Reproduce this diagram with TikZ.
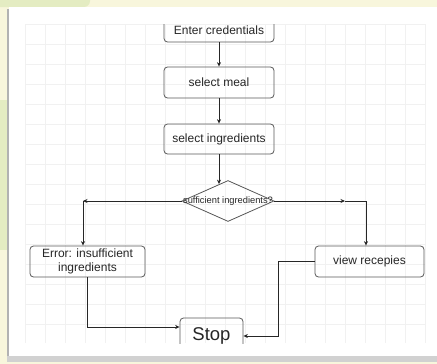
\documentclass[tikz,border=0pt]{standalone}
\usepackage{fontspec}
\setmainfont{Liberation Sans}
\usetikzlibrary{arrows.meta,shapes.geometric}
\definecolor{bgyellow}{HTML}{F8F6DC}
\definecolor{bggreen}{HTML}{E4ECC2}
\definecolor{gridc}{HTML}{F1F1F1}
\definecolor{txt}{HTML}{262626}
\begin{document}
\begin{tikzpicture}[x=1pt,y=-1pt,
  box/.style={draw=black!65, rounded corners=3.5pt, line width=0.8pt, minimum width=110pt, minimum height=31pt,
    font=\fontsize{12}{14}\selectfont, text=txt, align=center, inner sep=0pt},
  arr/.style={-{Stealth[length=4.5pt,width=4pt]}, line width=0.7pt, draw=black!85},
  ln/.style={line width=0.7pt, draw=black!85},
  gl/.style={draw=gridc, line width=0.5pt}]
\useasboundingbox (0,0) rectangle (437,364);
% background
\fill[bgyellow] (0,0) rectangle (437,364);
\fill[bggreen, rounded corners=6pt] (-10,-10) rectangle (90,7);
\fill[bggreen] (0,100) rectangle (8,250);
% panel with shadow
\fill[black!30] (7,9) rectangle (437,362);
\fill[black!18] (7,356) rectangle (437,362);
\fill[white] (9,7) rectangle (437,356);
% grid
\foreach \gx in {25,45,...,425} {\draw[gl] (\gx,24) -- (\gx,343);}
\foreach \gy in {24,44,...,343} {\draw[gl] (25,\gy) -- (425,\gy);}
\begin{scope}
\clip (0,24) rectangle (437,343);
\node[box, minimum height=24pt] (ec) at (219,30) {Enter credentials};
\node[box] (sm) at (219,82.5) {select meal};
\node[box, minimum height=30pt] (si) at (219,139) {select ingredients};
\node[draw=black!65, line width=0.8pt, diamond, minimum width=92pt, minimum height=41pt, inner sep=0pt] (d) at (228,201) {};
\node[font=\fontsize{9.3}{11}\selectfont, text=txt, inner sep=0pt] (dt) at (228,201) {sufficient ingredients?};
\node[box, minimum width=115pt] (err) at (87.5,261.5) {Error: insufficient\\ingredients};
\node[box, minimum width=109pt] (view) at (369.5,261.5) {view recepies};
\node[box, minimum width=63pt, minimum height=36pt, font=\fontsize{18.5}{20}\selectfont] (stop) at (211.5,336) {Stop};
\coordinate (lc) at (83,201);
\coordinate (rc) at (345,201);
\coordinate (rc2) at (366,201);
\draw[arr] (ec.south) -- (sm.north);
\draw[arr] (sm.south) -- (si.north);
\draw[arr] (si.south) -- ([yshift=-4pt]si.south |- d.north);
\draw[arr] (d.west) -- (lc);
\draw[arr] (lc) -- (lc |- err.north);
\draw[arr] (d.east) -- (rc);
\draw[ln] (rc) -- (rc2);
\draw[arr] (rc2) -- (rc2 |- view.north);
\draw[arr] (err.south) |- ([yshift=9pt]stop.west);
\draw[arr] (view.west) -- ++(-36,0) |- (stop.east);
\end{scope}
\end{tikzpicture}
\end{document}
